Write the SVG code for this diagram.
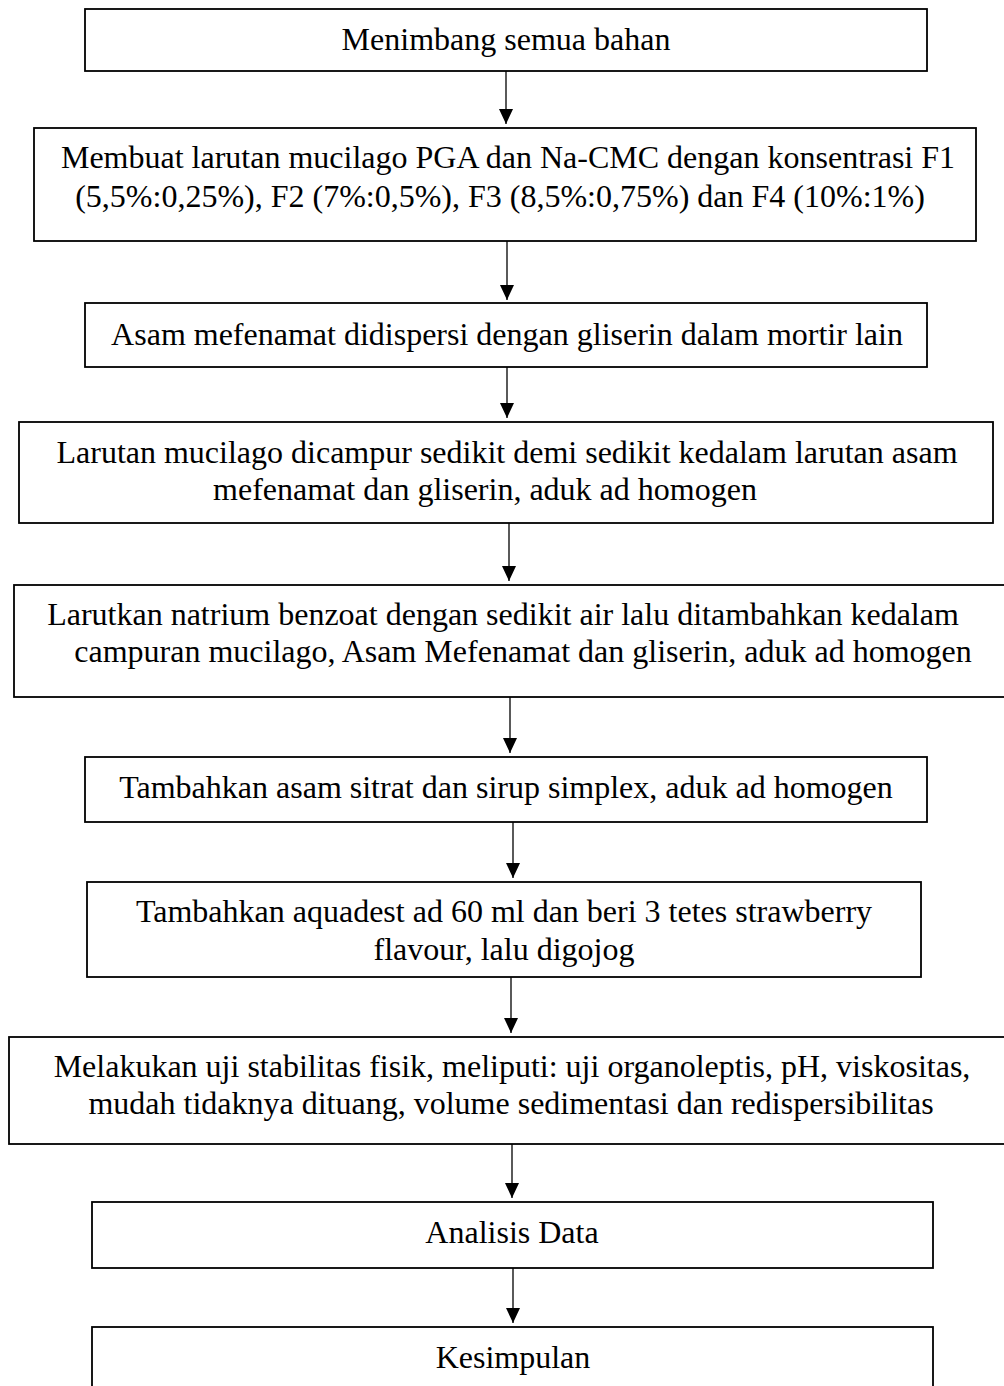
<svg xmlns="http://www.w3.org/2000/svg" width="1004" height="1386" viewBox="0 0 1004 1386">
<defs>
<marker id="ah" markerUnits="userSpaceOnUse" markerWidth="15" markerHeight="14" refX="15" refY="7" orient="auto">
<path d="M0,0 L15,7 L0,14 Z" fill="#000"/>
</marker>
<style>
.box{fill:#fff;stroke:#000;stroke-width:1.8}
.t{font-family:"Liberation Serif","Times New Roman",serif;font-size:32px;fill:#000;text-anchor:middle}
.c{stroke:#000;stroke-width:1.3;fill:none;marker-end:url(#ah)}
</style>
</defs>
<rect width="1004" height="1386" fill="#fff"/>
<g id="connectors">
<line class="c" x1="506" y1="71" x2="506" y2="124"/>
<line class="c" x1="507" y1="241" x2="507" y2="300"/>
<line class="c" x1="507" y1="367" x2="507" y2="418"/>
<line class="c" x1="509" y1="523" x2="509" y2="581"/>
<line class="c" x1="510" y1="697" x2="510" y2="753"/>
<line class="c" x1="513" y1="822" x2="513" y2="878"/>
<line class="c" x1="511" y1="977" x2="511" y2="1033"/>
<line class="c" x1="512" y1="1144" x2="512" y2="1198"/>
<line class="c" x1="513" y1="1268" x2="513" y2="1323"/>
</g>
<g id="n1"><rect class="box" x="85" y="9" width="842" height="62"/><text class="t" x="506" y="50">Menimbang semua bahan</text></g>
<g id="n2"><rect class="box" x="34" y="128" width="942" height="113"/><text class="t" x="508" y="168">Membuat larutan mucilago PGA dan Na-CMC dengan konsentrasi F1</text><text class="t" x="500" y="207">(5,5%:0,25%), F2 (7%:0,5%), F3 (8,5%:0,75%) dan F4 (10%:1%)</text></g>
<g id="n3"><rect class="box" x="85" y="303" width="842" height="64"/><text class="t" x="507" y="345">Asam mefenamat didispersi dengan gliserin dalam mortir lain</text></g>
<g id="n4"><rect class="box" x="19" y="422" width="974" height="101"/><text class="t" x="507" y="463">Larutan mucilago dicampur sedikit demi sedikit kedalam larutan asam</text><text class="t" x="485" y="500">mefenamat dan gliserin, aduk ad homogen</text></g>
<g id="n5"><rect class="box" x="14" y="585" width="996" height="112"/><text class="t" x="503" y="625">Larutkan natrium benzoat dengan sedikit air lalu ditambahkan kedalam</text><text class="t" x="523" y="662">campuran mucilago, Asam Mefenamat dan gliserin, aduk ad homogen</text></g>
<g id="n6"><rect class="box" x="85" y="757" width="842" height="65"/><text class="t" x="506" y="798">Tambahkan asam sitrat dan sirup simplex, aduk ad homogen</text></g>
<g id="n7"><rect class="box" x="87" y="882" width="834" height="95"/><text class="t" x="504" y="922">Tambahkan aquadest ad 60 ml dan beri 3 tetes strawberry</text><text class="t" x="504" y="960">flavour, lalu digojog</text></g>
<g id="n8"><rect class="box" x="9" y="1037" width="1000" height="107"/><text class="t" x="512" y="1077">Melakukan uji stabilitas fisik, meliputi: uji organoleptis, pH, viskositas,</text><text class="t" x="511" y="1114">mudah tidaknya dituang, volume sedimentasi dan redispersibilitas</text></g>
<g id="n9"><rect class="box" x="92" y="1202" width="841" height="66"/><text class="t" x="512" y="1243">Analisis Data</text></g>
<g id="n10"><rect class="box" x="92" y="1327" width="841" height="80"/><text class="t" x="513" y="1368">Kesimpulan</text></g>
</svg>
